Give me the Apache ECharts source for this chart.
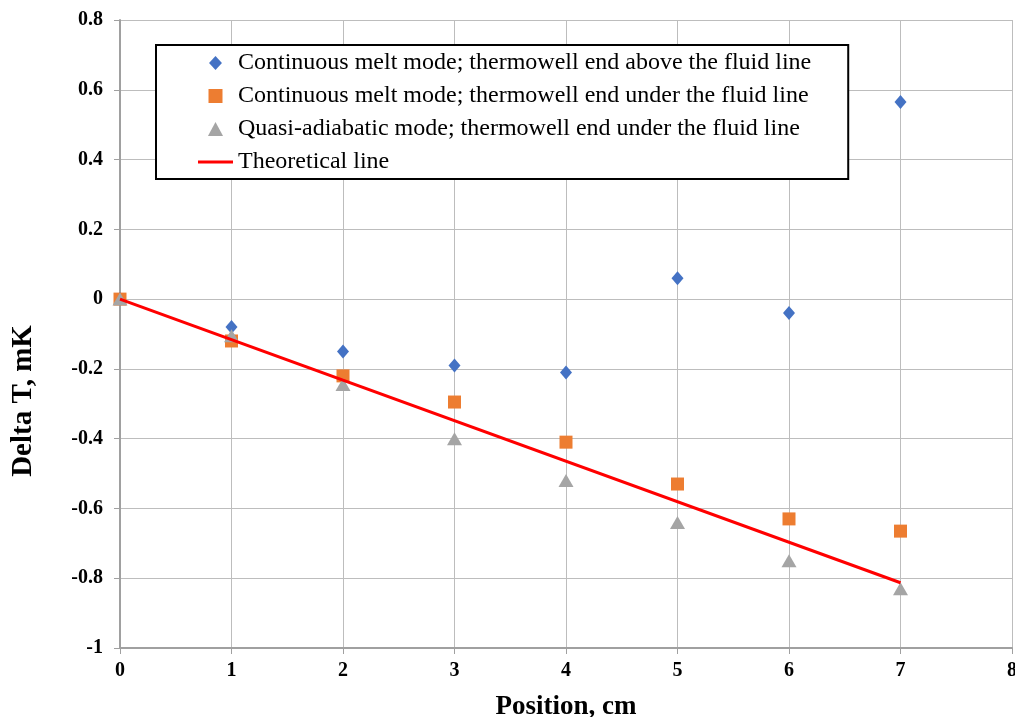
<!DOCTYPE html>
<html>
<head>
<meta charset="utf-8">
<script src="https://cdn.jsdelivr.net/npm/echarts@6/dist/echarts.min.js"></script>
<style>
  html, body { margin: 0; padding: 0; background: #fff; }
  #chart { width: 1015px; height: 717px; }
</style>
</head>
<body>
<div id="chart"></div>
<script>
// Position along the thermowell, cm
const positions = [0, 1, 2, 3, 4, 5, 6, 7];

// Measured temperature differences, mK
const meltAbove = [0, -0.08, -0.15, -0.19, -0.21, 0.06, -0.04, 0.565];
const meltUnder = [0, -0.12, -0.22, -0.295, -0.41, -0.53, -0.63, -0.665];
const quasiAdiabatic = [0, -0.105, -0.245, -0.40, -0.52, -0.64, -0.75, -0.83];

// Theoretical line end points
const theoryX = [0, 7];
const theoryY = [0, -0.813];

const seriesNames = [
  'Continuous melt mode; thermowell end above the fluid line',
  'Continuous melt mode; thermowell end under the fluid line',
  'Quasi-adiabatic mode; thermowell end under the fluid line',
  'Theoretical line'
];

const pair = (xs, ys) => xs.map((x, i) => [x, ys[i]]);
const serif = '"Liberation Serif", "Times New Roman", serif';

// Legend icons (aspect kept, centred in the icon box)
const iconDiamond = 'path://M6,0 L12,6.5 L6,13 L0,6.5 Z';
const iconSquare = 'path://M0,0 H13 V13 H0 Z';
const iconTriangle = 'path://M7,0 L14,13 L0,13 Z';
const iconLine = 'path://M0,0 H35 V3 H0 Z';

const chart = echarts.init(document.getElementById('chart'));
chart.setOption({
  animation: false,
  backgroundColor: '#fff',
  grid: { left: 120, right: 3, top: 20, bottom: 69, containLabel: false, outerBoundsMode: 'none' },
  legend: {
    orient: 'vertical',
    left: 156,
    top: 45,
    padding: [6, 37, 5, 42],
    borderColor: '#000',
    borderWidth: 2,
    backgroundColor: '#fff',
    itemWidth: 35,
    itemHeight: 14,
    itemGap: 9,
    symbolKeepAspect: true,
    textStyle: { fontFamily: serif, fontSize: 24, color: '#000' },
    data: [
      { name: seriesNames[0], icon: iconDiamond },
      { name: seriesNames[1], icon: iconSquare },
      { name: seriesNames[2], icon: iconTriangle },
      { name: seriesNames[3], icon: iconLine }
    ]
  },
  xAxis: {
    type: 'value',
    min: 0, max: 8, interval: 1,
    name: 'Position, cm',
    nameLocation: 'middle',
    nameGap: 46,
    nameTextStyle: { fontFamily: serif, fontSize: 27, fontWeight: 'bold', color: '#000' },
    axisLine: { onZero: false, lineStyle: { color: '#a0a0a0', width: 2 } },
    axisTick: { show: true, length: 6, lineStyle: { color: '#a0a0a0' } },
    axisLabel: { fontFamily: serif, fontSize: 20, fontWeight: 'bold', color: '#000', margin: 13 },
    splitLine: { show: true, lineStyle: { color: '#bdbdbd', width: 1 } }
  },
  yAxis: {
    type: 'value',
    min: -1, max: 0.8, interval: 0.2,
    name: 'Delta T, mK',
    nameLocation: 'middle',
    nameGap: 82,
    nameRotate: 90,
    nameTextStyle: {
      fontFamily: serif, fontSize: 29, fontWeight: 'bold', color: '#000',
      padding: [0, 134, 0, 0]
    },
    axisLine: { show: true, onZero: false, lineStyle: { color: '#a0a0a0', width: 2 } },
    axisTick: { show: true, length: 6, lineStyle: { color: '#a0a0a0' } },
    axisLabel: {
      fontFamily: serif, fontSize: 20, fontWeight: 'bold', color: '#000', margin: 17,
      formatter: v => {
        const r = Math.round(v * 10) / 10;
        return r === 0 ? '0' : (Number.isInteger(r) ? String(r) : r.toFixed(1));
      }
    },
    splitLine: { show: true, lineStyle: { color: '#bdbdbd', width: 1 } }
  },
  series: [
    {
      name: seriesNames[0],
      type: 'scatter',
      symbol: 'diamond',
      symbolSize: [12, 14],
      itemStyle: { color: '#4472C4', opacity: 1 },
      data: pair(positions, meltAbove)
    },
    {
      name: seriesNames[1],
      type: 'scatter',
      symbol: 'rect',
      symbolSize: 13,
      itemStyle: { color: '#ED7D31', opacity: 1 },
      data: pair(positions, meltUnder)
    },
    {
      name: seriesNames[2],
      type: 'scatter',
      symbol: 'triangle',
      symbolSize: [15, 13],
      itemStyle: { color: '#A5A5A5', opacity: 1 },
      data: pair(positions, quasiAdiabatic)
    },
    {
      name: seriesNames[3],
      type: 'line',
      symbol: 'none',
      lineStyle: { color: '#FF0000', width: 3 },
      itemStyle: { color: '#FF0000' },
      data: pair(theoryX, theoryY)
    }
  ]
});
</script>
</body>
</html>
